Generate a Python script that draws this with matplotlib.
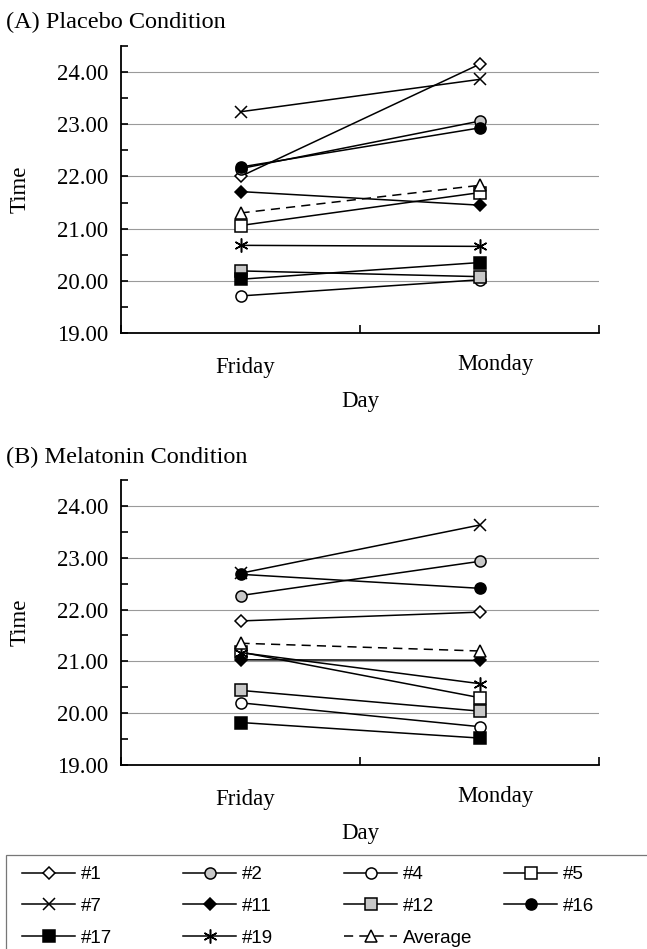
import matplotlib
matplotlib.use('Agg')
import matplotlib.pyplot as plt
import matplotlib.patches as mpatches
import matplotlib.transforms as mtransforms
from matplotlib.lines import Line2D
from matplotlib.ticker import FormatStrFormatter, MultipleLocator, FixedLocator

plt.rcParams['font.family'] = ['Liberation Serif', 'DejaVu Serif']

days = ['Friday', 'Monday']
subjects = ['#1', '#2', '#4', '#5', '#7', '#11', '#12', '#16', '#17', '#19', 'Average']

# times (Friday, Monday)
placebo_fri = [22.00, 22.15, 19.71, 21.06, 23.24, 21.71, 20.19, 22.18, 20.03, 20.68, 21.30]
placebo_mon = [24.15, 23.06, 20.02, 21.69, 23.86, 21.45, 20.08, 22.93, 20.35, 20.66, 21.83]
melatonin_fri = [21.78, 22.27, 20.20, 21.18, 22.70, 21.03, 20.44, 22.68, 19.82, 21.17, 21.35]
melatonin_mon = [21.95, 22.93, 19.74, 20.30, 23.63, 21.02, 20.04, 22.41, 19.52, 20.57, 21.20]

GREY = '#c8c8c8'
styles = {
	'#1': dict(marker='D', mfc='white', ms=6.5),
	'#2': dict(marker='o', mfc=GREY, ms=8),
	'#4': dict(marker='o', mfc='white', ms=8),
	'#5': dict(marker='s', mfc='white', ms=8),
	'#7': dict(marker='x', mfc='none', ms=9),
	'#11': dict(marker='D', mfc='black', ms=6.5),
	'#12': dict(marker='s', mfc=GREY, ms=8),
	'#16': dict(marker='o', mfc='black', ms=8),
	'#17': dict(marker='s', mfc='black', ms=8),
	'#19': dict(marker=(6, 2, 0), mfc='none', ms=10),
	'Average': dict(marker='^', mfc='white', ms=8, ls=(0, (6, 4))),
}

W, H = 647, 949
fig = plt.figure(figsize=(W / 100, H / 100), dpi=100)


def px(x0, y0, x1, y1):
	# pixel box (top-left origin) -> figure fraction rect
	return [x0 / W, 1 - y1 / H, (x1 - x0) / W, (y1 - y0) / H]


def panel(ax, fri, mon, title, title_y):
	xs = [0.5, 1.5]
	for name, a, b in zip(subjects, fri, mon):
		st = dict(styles[name])
		ls = st.pop('ls', '-')
		ax.plot(xs, [a, b], color='black', lw=1.1, ls=ls, mec='black', mew=1.1, **st, zorder=3)
	ax.set_xlim(0, 2)
	ax.set_ylim(19, 24.5)
	ax.spines['top'].set_visible(False)
	ax.spines['right'].set_visible(False)
	for s in ('left', 'bottom'):
		ax.spines[s].set_linewidth(1.3)
	ax.yaxis.set_major_locator(MultipleLocator(1))
	ax.yaxis.set_minor_locator(MultipleLocator(0.5))
	ax.yaxis.set_major_formatter(FormatStrFormatter('%.2f'))
	ax.tick_params(axis='y', which='both', direction='in', length=5, width=1.2, labelsize=16.5, pad=9)
	ax.xaxis.set_major_locator(FixedLocator([0, 1, 2]))
	ax.xaxis.set_minor_locator(FixedLocator(xs))
	ax.xaxis.set_major_formatter(plt.NullFormatter())
	ax.xaxis.set_minor_formatter(plt.FixedFormatter(days))
	ax.tick_params(axis='x', which='major', direction='in', length=6, width=1.2)
	ax.tick_params(axis='x', which='minor', length=0, labelsize=16.5, pad=17)
	# the day names sit a little right of the points in the original
	for lab, (dx, dy) in zip(ax.xaxis.get_minorticklabels(), [(5, 0), (16, 3)]):
		lab.set_transform(lab.get_transform() + mtransforms.ScaledTranslation(dx / 100, dy / 100, fig.dpi_scale_trans))
	ax.grid(axis='y', which='major', color='#9a9a9a', lw=0.8)
	ax.set_axisbelow(True)
	ax.set_xlabel('Day', fontsize=16.5, labelpad=10)
	ax.set_ylabel('Time', fontsize=16.5)
	ax.yaxis.set_label_coords(-0.19, 0.5)
	fig.text(6 / W, 1 - title_y / H, title, fontsize=17.5, va='center', ha='left')


axA = fig.add_axes(px(121, 46, 599, 333))
panel(axA, placebo_fri, placebo_mon, '(A) Placebo Condition', 22)
axB = fig.add_axes(px(121, 480, 599, 765))
panel(axB, melatonin_fri, melatonin_mon, '(B) Melatonin Condition', 457)

# legend box
fig.patches.append(mpatches.Rectangle((6 / W, -0.01), 1, (H - 855) / H + 0.01,
	transform=fig.transFigure, fill=False, ec='#777777', lw=0.9))


def handle(name):
	st = dict(styles[name])
	ls = st.pop('ls', '-')
	return Line2D([], [], color='black', lw=1.1, ls=ls, mec='black', mew=1.1, **st)


legend_cols = [['#1', '#7', '#17'], ['#2', '#11', '#19'], ['#4', '#12', 'Average'], ['#5', '#16']]
col_x = [22, 183, 344, 504]
for names, x in zip(legend_cols, col_x):
	fig.legend([handle(n) for n in names], names, loc='upper left',
		bbox_to_anchor=(x / W, 1 - 866 / H), bbox_transform=fig.transFigure,
		frameon=False, borderpad=0, borderaxespad=0, handlelength=2.85,
		handletextpad=0.3, labelspacing=0.78, numpoints=1,
		prop={'family': 'Liberation Sans', 'size': 13.5})

fig.savefig('out.png', dpi=100)
